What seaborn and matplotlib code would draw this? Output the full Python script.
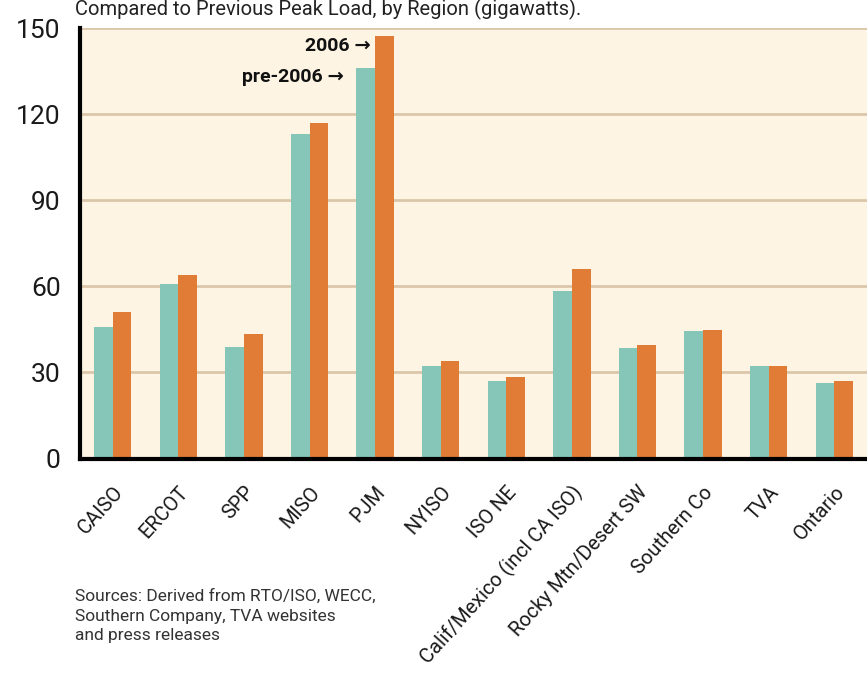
import numpy as np
import pandas as pd
import seaborn as sns
import matplotlib.pyplot as plt
from matplotlib import transforms

# peak load by region, gigawatts
regions = ["CAISO", "ERCOT", "SPP", "MISO", "PJM", "NYISO", "ISO NE",
           "Calif/Mexico (incl CA ISO)", "Rocky Mtn/Desert SW",
           "Southern Co", "TVA", "Ontario"]
pre_2006 = [45.7, 60.7, 39.0, 113.0, 136.0, 32.2, 27.0, 58.4, 38.4, 44.4, 32.1, 26.2]
peak_2006 = [50.9, 63.9, 43.3, 117.0, 147.3, 34.1, 28.3, 65.9, 39.5, 44.8, 32.1, 27.1]
periods = ["pre-2006", "2006"]
y_ticks = [0, 30, 60, 90, 120, 150]

df = pd.DataFrame({
    "region": regions * 2,
    "period": [periods[0]] * len(regions) + [periods[1]] * len(regions),
    "gw": pre_2006 + peak_2006,
})

sns.set_style("white")
plt.rcParams['font.family'] = ['Roboto', 'DejaVu Sans']

teal = "#86c6b9"
orange = "#e07c35"
grid_col = "#dcc6aa"

fig = plt.figure(figsize=(8.67, 6.73), dpi=100)
fig.patch.set_facecolor("white")
ax = fig.add_axes([80 / 867, 1 - 458.5 / 673, 787 / 867, 430.5 / 673])
ax.set_facecolor("#fdf4e3")

sns.barplot(data=df, x="region", y="gw", hue="period", hue_order=periods,
            order=regions, palette=[teal, orange], width=0.57, dodge=True,
            saturation=1, linewidth=0, ax=ax, legend=False, zorder=3)

ax.set_xlim(-0.5, -0.5 + 787 / 66.5)
ax.set_ylim(0, 150)
ax.set_yticks(y_ticks)
ax.set_yticklabels([str(t) for t in y_ticks], fontsize=19, color="#1a1a1a")
for t in y_ticks[1:]:
    ax.axhline(t, color=grid_col, lw=2, zorder=1)

ax.set_xticks(range(len(regions)))
ax.set_xticklabels(regions, rotation=48, ha="right", va="center",
                   rotation_mode="anchor", fontsize=14.5, color="#1a1a1a")
ax.set_xticks(np.arange(-0.5, len(regions), 1), minor=True)
ax.tick_params(axis="x", which="major", length=0, pad=22)
ax.tick_params(axis="x", which="minor", length=8, width=2.5, color="black",
               direction="out")
ax.tick_params(axis="y", length=8, width=2.5, color="black", pad=6)
off = transforms.ScaledTranslation(7 / 100, 0, fig.dpi_scale_trans)
for lab in ax.get_xticklabels():
    lab.set_transform(lab.get_transform() + off)

for side in ["top", "right"]:
    ax.spines[side].set_visible(False)
for side in ["left", "bottom"]:
    ax.spines[side].set_color("black")
    ax.spines[side].set_linewidth(3)
    ax.spines[side].set_zorder(5)
ax.set_xlabel("")
ax.set_ylabel("")

ax.text(3.94, 143.7, "2006 \u2192", ha="right", va="center", fontsize=14,
        fontweight="bold", color="#111111")
ax.text(3.53, 132.9, "pre-2006 \u2192", ha="right", va="center", fontsize=14,
        fontweight="bold", color="#111111")

fig.text(75 / 867, 1 - 15 / 673,
         "Compared to Previous Peak Load, by Region (gigawatts).",
         ha="left", va="baseline", fontsize=14.5, color="#222222")
fig.text(75 / 867, 1 - 589 / 673,
         "Sources: Derived from RTO/ISO, WECC,\nSouthern Company, TVA websites\nand press releases",
         ha="left", va="top", fontsize=12.5, color="#333333", linespacing=1.38)

plt.savefig("out.png", dpi=100)
